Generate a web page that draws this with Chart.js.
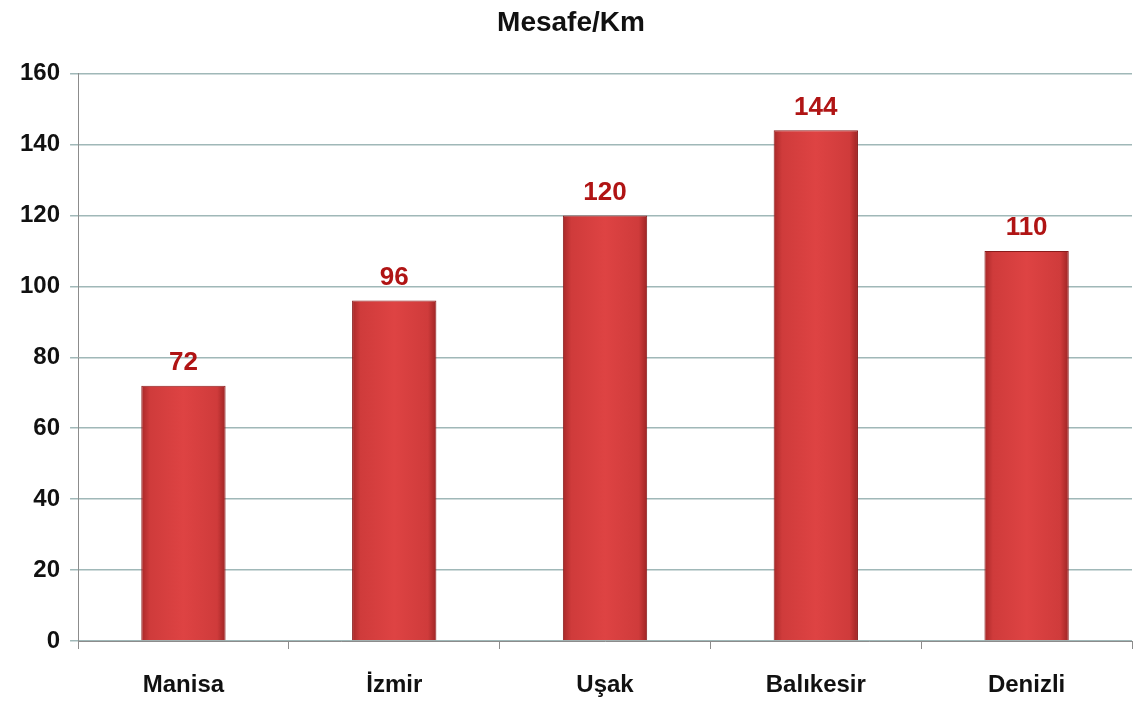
<!DOCTYPE html>
<html>
<head>
<meta charset="utf-8">
<script src="https://cdn.jsdelivr.net/npm/chart.js@4"></script>
<style>
  html, body { margin: 0; padding: 0; background: #fff; }
  #wrap { width: 1134px; height: 702px; position: relative; }
</style>
</head>
<body>
<div id="wrap"><canvas id="chart"></canvas></div>
<script>
const categories = ['Manisa', 'İzmir', 'Uşak', 'Balıkesir', 'Denizli'];
const distances = [72, 96, 120, 144, 110];
const yTicks = [0, 20, 40, 60, 80, 100, 120, 140, 160];

const FONT = "'Liberation Sans', Arial, sans-serif";
const BAR_PCT = 0.4;

// horizontal shading per bar, like the old 3D-ish office bars
function barFill(context) {
  const chart = context.chart;
  const xs = chart.scales.x;
  if (!chart.chartArea || !xs) return '#d63a3a';
  const cx = xs.getPixelForValue(context.dataIndex);
  const half = (xs.width / categories.length) * BAR_PCT / 2;
  const g = chart.ctx.createLinearGradient(cx - half, 0, cx + half, 0);
  g.addColorStop(0, '#a82828');
  g.addColorStop(0.1, '#cf3b3b');
  g.addColorStop(0.5, '#de4343');
  g.addColorStop(0.9, '#cf3b3b');
  g.addColorStop(1, '#9e2424');
  return g;
}

const valueLabels = {
  id: 'valueLabels',
  afterDatasetsDraw(chart) {
    const ctx = chart.ctx;
    const meta = chart.getDatasetMeta(0);
    ctx.save();
    ctx.fillStyle = '#b01414';
    ctx.font = 'bold 26px ' + FONT;
    ctx.textAlign = 'center';
    ctx.textBaseline = 'bottom';
    meta.data.forEach((bar, i) => {
      ctx.fillText(distances[i], bar.x, bar.y - 10);
    });
    ctx.restore();
  }
};

new Chart(document.getElementById('chart'), {
  type: 'bar',
  data: {
    labels: categories,
    datasets: [{
      data: distances,
      backgroundColor: barFill,
      borderColor: '#8a1c1c',
      borderWidth: 1,
      barPercentage: BAR_PCT,
      categoryPercentage: 1,
    }],
  },
  options: {
    responsive: true,
    maintainAspectRatio: false,
    animation: false,
    layout: { padding: { left: 10, right: 2, top: 2, bottom: -19 } },
    plugins: {
      legend: { display: false },
      tooltip: { enabled: false },
      title: {
        display: true,
        text: 'Mesafe/Km',
        color: '#111',
        font: { family: FONT, size: 28, weight: 'bold' },
        padding: { top: 4, bottom: 34 },
      },
    },
    scales: {
      x: {
        offset: true,
        grid: { offset: true, drawOnChartArea: false, drawTicks: true, tickLength: 8, color: '#8c8c8c' },
        border: { color: '#8c8c8c' },
        ticks: { color: '#111', padding: 24, font: { family: FONT, size: 24, weight: 'bold', lineHeight: 1 } },
      },
      y: {
        min: 0,
        max: 160,
        afterBuildTicks: axis => { axis.ticks = yTicks.map(v => ({ value: v })); },
        grid: { color: '#a0b8b8', lineWidth: 1.5, tickLength: 8 },
        border: { color: '#8c8c8c', width: 1 },
        ticks: { color: '#111', padding: 10, font: { family: FONT, size: 24, weight: 'bold' } },
      },
    },
  },
  plugins: [valueLabels],
});
</script>
</body>
</html>
